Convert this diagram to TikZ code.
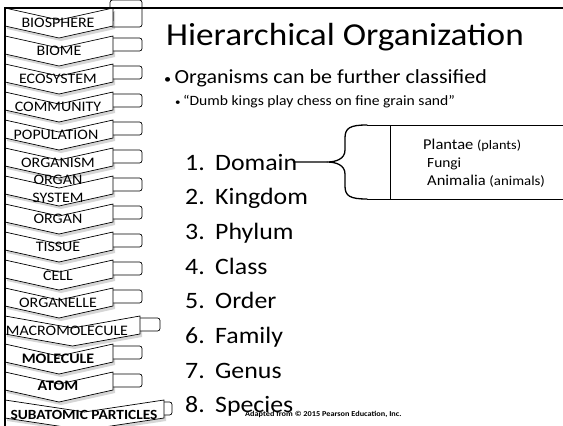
\documentclass[tikz,border=0pt]{standalone}
\usepackage{fontspec}
\setmainfont{Carlito}[FakeStretch=1.1]
\usepackage{tikz}
\usetikzlibrary{calc}
\tikzset{
    lvlchev/.style={
        draw=black,
        fill=white,
        line width=0.7pt,
        line join=miter
    },
    lvlshadow/.style={fill=black, opacity=0.16},
    lvltab/.style={
        draw=black,
        fill=white,
        line width=0.7pt,
        rounded corners=2.5pt
    },
    lvltext/.style={
        inner sep=0pt,
        align=center,
        font=\fontsize{14.5}{18}\selectfont
    },
    rank/.style={
        anchor=base west,
        inner sep=0pt,
        font=\fontsize{23.5}{28}\selectfont
    },
    kingtext/.style={
        anchor=base west,
        inner sep=0pt,
        font=\fontsize{15}{17}\selectfont
    },
    braceline/.style={line width=1.3pt, line cap=round}
}
% one level of the hierarchy: top y, right x, tab width
\newcommand{\lvlchev}[3]{%
  \pgfmathsetmacro{\chx}{(5+#2)/2}
  \fill[lvlshadow] (7,#1+3) -- (\chx+2,#1+15) -- (#2+2,#1+3) -- (#2+2,#1+21) -- (\chx+2,#1+33) -- (7,#1+21) -- cycle;
  \draw[lvltab] (#2-4,#1+2) rectangle (#2+#3,#1+15);
  \draw[lvlchev] (5,#1) -- (\chx,#1+12) -- (#2,#1) -- (#2,#1+18) -- (\chx,#1+30) -- (5,#1+18) -- cycle;
}

\begin{document}
\begin{tikzpicture}[x=1pt, y=-1pt]
    \useasboundingbox (0,0) rectangle (563,426);

    % Levels - chevrons
    \draw[lvltab] (110,0) rectangle (142,27);
    \lvlchev{8}{113}{0}
    \lvlchev{36}{113}{29}
    \lvlchev{64}{113}{29}
    \lvlchev{92}{113}{29}
    \lvlchev{120}{113}{29}
    \lvlchev{148}{113}{29}
    \lvlchev{176}{113}{29}
    \lvlchev{204}{113}{29}
    \lvlchev{232}{113}{29}
    \lvlchev{260}{113}{29}
    \lvlchev{288}{113}{29}
    \lvlchev{316}{140}{20}
    \lvlchev{344}{113}{29}
    \lvlchev{372}{113}{29}
    \lvlchev{400}{164}{8}

    % Level names
    \node[lvltext] (bios) at (58,23) {BIOSPHERE};
    \node[lvltext] (biome) at (59,51) {BIOME};
    \node[lvltext] (ecos) at (58,79) {ECOSYSTEM};
    \node[lvltext] (comm) at (58,107) {COMMUNITY};
    \node[lvltext] (popu) at (56,135) {POPULATION};
    \node[lvltext] (orgm) at (58,163) {ORGANISM};
    \node[lvltext] (orgs) at (58,189) {ORGAN\\SYSTEM};
    \node[lvltext] (organ) at (58,219) {ORGAN};
    \node[lvltext] (tiss) at (58,247) {TISSUE};
    \node[lvltext] (cell) at (58,276) {CELL};
    \node[lvltext] (orgl) at (58,303) {ORGANELLE};
    \node[lvltext] (macro) at (67,331) {MACROMOLECULE};
    \node[lvltext, font=\fontsize{14.5}{18}\selectfont\bfseries] (molec) at (58,359) {MOLECULE};
    \node[lvltext, font=\fontsize{14.5}{18}\selectfont\bfseries] (atom) at (58,386) {ATOM};
    \node[lvltext, font=\fontsize{14}{18}\selectfont\bfseries] (subat) at (84,415) {SUBATOMIC PARTICLES};

    % Frame
    \draw[line width=2pt] (4.3,8) -- (563,8);
    \draw[line width=1.4pt] (5,8) -- (5,426);

    % Title and bullets
    \node[anchor=base west, inner sep=0pt, font=\fontsize{32}{36}\selectfont] (title) at (166,45) {Hierarchical Organization};
    \node[anchor=base west, inner sep=0pt, font=\fontsize{20}{24}\selectfont] (bul1) at (164,83) {{\fontsize{13}{15}\selectfont\textbullet}\,Organisms can be further classified};
    \node[anchor=base west, inner sep=0pt, font=\fontsize{14.2}{18}\selectfont] (bul2) at (175,105) {{\fontsize{10}{12}\selectfont\textbullet}\,“Dumb kings play chess on fine grain sand”};

    % Ranks
    \node[rank] (dom) at (185,170) {\makebox[30pt][l]{1.}Domain};
    \node[rank] (king) at (185,204.7) {\makebox[30pt][l]{2.}Kingdom};
    \node[rank] (phyl) at (185,239.4) {\makebox[30pt][l]{3.}Phylum};
    \node[rank] (class) at (185,274.1) {\makebox[30pt][l]{4.}Class};
    \node[rank] (order) at (185,308.8) {\makebox[30pt][l]{5.}Order};
    \node[rank] (fam) at (185,343.5) {\makebox[30pt][l]{6.}Family};
    \node[rank] (genus) at (185,378.2) {\makebox[30pt][l]{7.}Genus};
    \node[rank] (spec) at (185,412.9) {\makebox[30pt][l]{8.}Species};

    % Brace and kingdom box
    \coordinate (tip) at (327,162);
    \coordinate (btop) at (367,125);
    \coordinate (bbot) at (367,199);
    \coordinate (rtop) at (563,125);
    \coordinate (rbot) at (563,199);
    \coordinate (dtop) at (390,125);
    \coordinate (dbot) at (390,199);
    \draw[braceline] ([xshift=-4pt]dom.east) -- (tip);
    \draw[braceline] (btop) .. controls (350,125) and (345,128) .. (345,138) -- (345,150)
        .. controls (345,159) and (336,162) .. (tip)
        .. controls (336,162) and (345,165) .. (345,174) -- (345,186)
        .. controls (345,196) and (350,199) .. (bbot);
    \draw[line width=1pt] (btop) -- (rtop);
    \draw[line width=1pt] (bbot) -- (rbot);
    \draw[line width=0.8pt] (dtop) -- (dbot);
    \node[kingtext] (plant) at (423,149) {Plantae {\fontsize{13}{15}\selectfont(plants)}};
    \node[kingtext, font=\fontsize{14}{17}\selectfont] (fungi) at (427,167) {Fungi};
    \node[kingtext] (anim) at (427,185) {Animalia {\fontsize{13.5}{15}\selectfont(animals)}};

    % Source
    \node[anchor=base west, inner sep=0pt, font=\fontsize{7.5}{8}\selectfont\bfseries] (src) at (245,416) {Adapted from © 2015 Pearson Education, Inc.};
\end{tikzpicture}
\end{document}
